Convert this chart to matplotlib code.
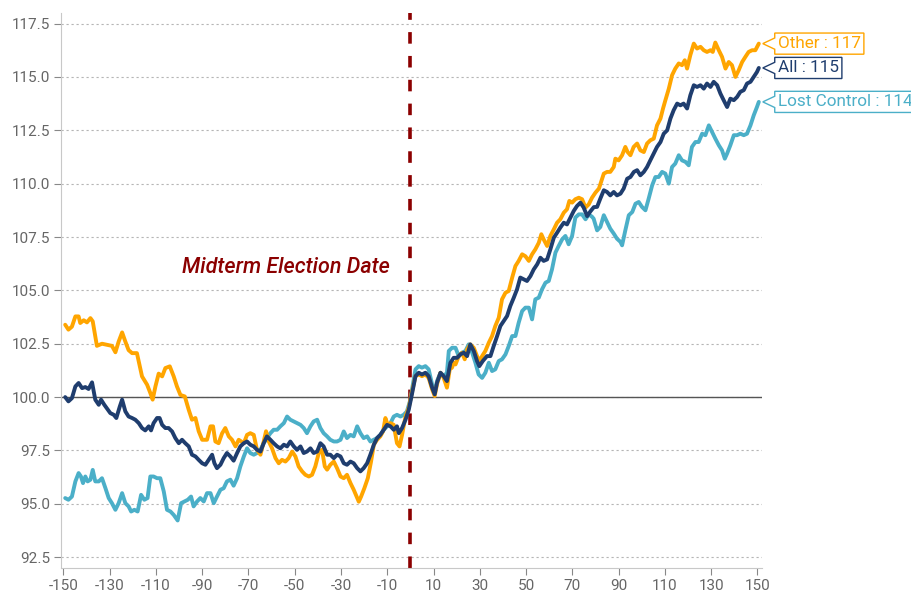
import matplotlib
matplotlib.use('Agg')
import matplotlib.pyplot as plt
from matplotlib.path import Path

plt.rcParams['font.family'] = ['Roboto', 'DejaVu Sans']
plt.rcParams['axes.unicode_minus'] = False

# 선거일 기준 거래일 (-150 ~ 150), 시작=100 으로 지수화
other_days = [-149.2, -147.8, -146.3, -144.8, -143.4, -142.7, -141.2, -139.8, -138.3, -137.3,
              -135.5, -133.3, -131.1, -129.0, -127.5, -126.1, -124.6, -123.2, -121.8, -120.3,
              -118.2, -116.0, -113.8, -112.4, -111.4, -110.2, -108.8, -107.3, -105.9, -104.0,
              -102.3, -100.9, -99.4, -97.5, -95.8, -94.4, -92.9, -91.5, -90.0, -87.9,
              -86.4, -85.3, -84.3, -82.9, -81.4, -80.0, -78.5, -77.1, -75.6, -74.2,
              -72.0, -70.6, -69.2, -67.7, -66.3, -64.8, -63.4, -62.4, -61.2, -59.8,
              -58.3, -56.9, -55.5, -54.0, -52.6, -51.1, -49.7, -48.3, -46.8, -45.4,
              -43.9, -42.5, -41.1, -39.6, -38.2, -37.0, -36.0, -34.6, -33.1, -31.7,
              -30.2, -28.8, -27.4, -25.9, -24.5, -23.0, -22.3, -21.3, -19.9, -18.4,
              -17.0, -15.8, -14.4, -13.0, -11.8, -10.8, -9.8, -8.6, -7.2, -5.8,
              -4.7, -3.6, -2.1, -0.7, 0.7, 2.2, 3.6, 5.0, 6.5, 7.9,
              9.4, 10.5, 11.5, 13.0, 14.4, 15.8, 17.0, 18.0, 18.7, 19.5,
              20.9, 22.3, 23.5, 24.5, 25.9, 27.4, 28.8, 29.8, 31.0, 32.4,
              33.9, 35.3, 36.7, 38.2, 39.6, 41.1, 42.5, 44.0, 45.4, 46.8,
              48.3, 49.7, 51.2, 52.6, 54.0, 55.5, 56.6, 57.6, 59.1, 60.5,
              62.0, 63.4, 64.8, 66.3, 67.7, 68.7, 69.9, 71.3, 72.8, 74.2,
              75.7, 77.1, 78.5, 80.0, 81.5, 83.6, 85.0, 86.4, 87.9, 88.6,
              90.0, 91.5, 92.9, 93.9, 95.1, 96.5, 98.0, 99.4, 100.9, 102.3,
              103.7, 105.2, 106.6, 108.1, 109.2, 110.2, 111.7, 113.1, 114.5, 116.0,
              117.4, 118.6, 119.6, 121.0, 122.5, 123.9, 125.4, 126.8, 128.2, 129.7,
              130.7, 131.8, 133.3, 134.7, 136.2, 137.6, 139.0, 140.5, 141.9, 143.4,
              144.8, 146.2, 147.7, 149.1, 150.6]
other_vals = [103.39, 103.16, 103.30, 103.78, 103.78, 103.47, 103.60, 103.50, 103.70, 103.55,
              102.40, 102.50, 102.45, 102.40, 102.10, 102.60, 103.03, 102.60, 102.20, 102.06,
              102.06, 100.97, 100.58, 100.19, 99.88, 100.50, 101.10, 100.97, 101.36, 101.44,
              100.97, 100.50, 100.10, 100.03, 99.40, 98.94, 99.02, 98.40, 98.00, 98.00,
              98.63, 98.63, 97.92, 97.84, 98.30, 98.55, 98.16, 98.00, 97.69, 98.00,
              97.84, 98.23, 98.31, 98.23, 97.53, 97.30, 97.92, 98.40, 97.92, 97.60,
              97.14, 96.90, 97.06, 96.98, 97.14, 97.45, 97.22, 96.75, 96.52, 96.36,
              96.28, 96.36, 96.75, 97.38, 97.53, 96.75, 96.60, 96.83, 96.98, 96.67,
              96.28, 96.20, 96.36, 95.97, 95.66, 95.27, 95.10, 95.34, 95.73, 96.20,
              96.98, 97.77, 98.00, 98.16, 98.40, 99.02, 98.70, 98.78, 98.70, 97.84,
              97.69, 98.23, 99.10, 99.50, 100.25, 100.98, 101.06, 100.98, 101.06, 100.90,
              100.36, 100.05, 100.60, 101.14, 100.90, 100.44, 101.30, 101.38, 101.60, 101.53,
              101.92, 102.08, 101.77, 102.23, 102.47, 102.31, 101.92, 101.69, 101.92, 102.16,
              102.55, 102.86, 103.33, 103.72, 104.58, 104.89, 104.97, 105.60, 106.14, 106.38,
              106.69, 106.60, 106.38, 106.69, 106.92, 107.23, 107.63, 107.39, 107.08, 107.55,
              107.86, 108.17, 108.33, 108.64, 108.80, 109.19, 109.11, 109.27, 109.34, 109.27,
              108.88, 109.03, 109.34, 109.58, 109.77, 110.47, 110.55, 110.55, 110.78, 111.17,
              111.09, 111.33, 111.72, 111.48, 111.33, 111.72, 111.88, 111.56, 111.48, 111.88,
              112.03, 112.11, 112.73, 113.05, 113.52, 113.90, 114.45, 115.08, 115.39, 115.63,
              115.55, 115.78, 115.39, 116.02, 116.56, 116.33, 116.41, 116.25, 116.17, 116.25,
              116.17, 116.61, 116.25, 115.94, 115.39, 115.70, 115.55, 115.00, 115.31, 115.70,
              115.94, 116.17, 116.25, 116.25, 116.56]

all_days = [-149.2, -147.8, -146.3, -144.8, -143.4, -141.9, -140.5, -139.1, -137.6, -136.2,
            -134.7, -133.7, -132.3, -130.8, -129.7, -128.2, -127.1, -125.6, -124.6, -123.2,
            -121.8, -120.3, -118.9, -117.4, -116.0, -114.6, -113.1, -112.1, -111.0, -109.5,
            -108.4, -107.3, -105.9, -104.5, -103.0, -101.6, -100.1, -98.7, -97.3, -95.8,
            -94.4, -92.9, -91.5, -90.0, -88.6, -87.2, -85.7, -84.7, -83.6, -82.1,
            -80.7, -79.3, -77.8, -76.4, -74.9, -73.5, -72.0, -70.6, -69.2, -67.7,
            -66.3, -64.8, -63.4, -62.0, -60.5, -59.1, -57.6, -56.2, -54.7, -53.3,
            -51.9, -50.4, -49.0, -47.5, -46.1, -44.7, -43.2, -41.8, -40.3, -38.9,
            -37.5, -36.0, -34.6, -33.1, -31.7, -30.2, -28.8, -27.4, -25.9, -24.5,
            -23.0, -21.6, -20.2, -18.7, -17.3, -15.8, -14.4, -13.0, -11.5, -10.1,
            -8.6, -7.2, -5.8, -5.0, -3.6, -2.1, -0.7, 0.7, 2.2, 3.6,
            5.0, 6.5, 7.9, 9.4, 10.5, 11.5, 13.0, 14.4, 15.8, 17.3,
            18.7, 20.2, 21.6, 23.1, 24.5, 25.9, 27.4, 28.8, 29.8, 31.3,
            33.1, 34.6, 36.0, 37.5, 38.9, 40.3, 41.8, 43.2, 44.7, 46.1,
            47.5, 49.0, 50.4, 51.9, 53.3, 54.8, 56.2, 57.6, 59.1, 60.5,
            62.0, 63.4, 64.8, 66.3, 67.7, 69.2, 70.6, 72.0, 73.5, 74.9,
            76.4, 77.8, 79.3, 80.7, 82.1, 83.6, 85.0, 86.4, 87.9, 89.3,
            90.8, 92.2, 93.7, 95.1, 96.6, 98.0, 99.4, 100.9, 102.3, 103.7,
            105.2, 106.6, 108.1, 109.5, 111.0, 112.4, 113.8, 115.3, 116.7, 118.1,
            119.6, 121.0, 122.5, 123.9, 125.4, 126.8, 128.2, 129.7, 131.1, 132.6,
            134.0, 135.4, 136.9, 138.3, 139.8, 141.2, 142.6, 144.1, 145.5, 147.0,
            148.4, 149.8, 150.6]
all_vals = [100.00, 99.80, 99.95, 100.50, 100.66, 100.42, 100.47, 100.38, 100.69, 99.88,
            99.64, 99.88, 99.64, 99.41, 99.25, 99.17, 99.02, 99.56, 99.88, 99.33,
            99.09, 99.02, 98.94, 98.78, 98.55, 98.44, 98.63, 98.44, 98.78, 99.02,
            99.02, 98.70, 98.55, 98.55, 98.39, 98.08, 97.84, 98.00, 97.84, 97.69,
            97.30, 97.22, 97.06, 96.90, 96.83, 97.06, 97.30, 96.90, 96.67, 96.83,
            97.14, 97.38, 97.22, 97.02, 97.38, 97.69, 97.84, 97.92, 97.77, 97.69,
            97.53, 97.45, 97.84, 98.16, 98.00, 97.84, 97.69, 97.60, 97.77, 97.69,
            97.92, 97.69, 97.53, 97.69, 97.38, 97.45, 97.60, 97.38, 97.45, 97.84,
            97.69, 97.30, 97.30, 97.14, 97.30, 97.22, 96.90, 96.83, 96.98, 96.90,
            96.67, 96.52, 96.67, 96.90, 97.30, 97.77, 98.08, 98.23, 98.47, 98.70,
            98.63, 98.47, 98.63, 98.31, 98.55, 98.94, 99.41, 100.15, 100.98, 101.14,
            101.06, 101.14, 100.98, 100.44, 100.13, 100.67, 101.14, 100.98, 100.75, 101.61,
            101.84, 101.84, 102.00, 102.08, 101.92, 102.47, 102.16, 101.69, 101.45, 101.69,
            101.92, 101.92, 102.39, 102.86, 103.33, 103.56, 103.80, 104.27, 104.66, 105.05,
            105.60, 105.52, 105.44, 105.67, 105.98, 106.22, 106.53, 106.38, 106.45, 106.92,
            107.47, 107.70, 107.94, 108.17, 108.09, 108.41, 108.72, 108.95, 109.11, 108.88,
            108.48, 108.70, 108.90, 108.91, 109.30, 109.69, 109.61, 109.45, 109.61, 109.45,
            109.53, 109.77, 110.23, 110.31, 110.55, 110.63, 110.39, 110.55, 110.78, 111.09,
            111.41, 111.72, 111.95, 112.34, 112.50, 113.05, 113.44, 113.75, 113.67, 113.75,
            113.52, 114.14, 114.61, 114.53, 114.61, 114.45, 114.69, 114.53, 114.77, 114.61,
            114.22, 113.91, 113.59, 113.98, 113.91, 114.06, 114.30, 114.38, 114.69, 114.77,
            115.00, 115.23, 115.42]

lost_days = [-149.2, -147.8, -146.3, -144.8, -143.4, -142.4, -141.5, -140.5, -139.5, -138.3,
             -137.3, -136.2, -134.7, -133.3, -131.8, -130.4, -129.0, -127.5, -126.1, -124.6,
             -123.2, -121.8, -120.7, -119.3, -117.9, -116.4, -115.0, -113.6, -112.4, -111.0,
             -109.5, -108.1, -106.6, -105.2, -103.7, -102.3, -100.6, -99.1, -97.7, -96.2,
             -94.8, -93.7, -92.2, -90.8, -89.3, -87.9, -86.4, -85.0, -83.6, -82.1,
             -80.7, -79.3, -77.8, -76.4, -74.9, -73.5, -72.0, -70.6, -69.2, -67.7,
             -66.3, -64.8, -63.4, -62.0, -60.5, -59.1, -57.6, -56.2, -54.7, -53.3,
             -51.9, -50.4, -49.0, -47.5, -46.1, -44.7, -43.2, -41.8, -40.3, -38.9,
             -37.5, -36.0, -34.6, -33.1, -31.7, -30.2, -28.8, -27.4, -25.9, -24.5,
             -23.0, -21.6, -20.2, -18.7, -17.3, -15.8, -14.4, -13.0, -11.5, -10.1,
             -8.6, -7.2, -5.8, -4.3, -2.9, -1.5, 0.0, 0.7, 2.2, 3.6,
             5.0, 6.5, 7.9, 9.4, 10.5, 11.5, 13.0, 14.4, 15.8, 16.6,
             18.0, 19.5, 20.9, 22.3, 23.8, 25.2, 26.7, 28.1, 29.5, 31.0,
             32.4, 33.9, 35.3, 36.7, 38.2, 39.6, 41.1, 42.5, 44.0, 45.4,
             46.8, 48.3, 49.7, 51.2, 52.6, 54.0, 55.5, 56.9, 58.4, 59.8,
             61.2, 62.7, 64.1, 65.6, 67.0, 68.4, 69.9, 71.3, 72.8, 74.2,
             75.7, 77.1, 78.5, 79.2, 80.7, 82.1, 83.6, 85.0, 86.4, 87.9,
             89.3, 90.8, 91.5, 92.9, 94.4, 95.9, 97.3, 98.7, 100.1, 101.6,
             103.0, 104.5, 105.9, 107.3, 108.8, 110.2, 111.7, 113.1, 114.5, 116.0,
             117.4, 118.9, 120.3, 121.7, 123.2, 124.6, 126.1, 127.5, 129.0, 130.4,
             131.8, 133.3, 134.7, 135.9, 136.9, 138.3, 139.8, 141.2, 142.6, 144.1,
             145.5, 147.0, 148.4, 149.8, 150.6]
lost_vals = [95.27, 95.19, 95.34, 96.05, 96.44, 96.28, 95.97, 96.28, 96.05, 96.13,
             96.59, 96.05, 96.05, 96.20, 95.73, 95.27, 95.03, 94.72, 95.03, 95.50,
             95.03, 94.88, 94.64, 94.72, 94.64, 95.42, 95.19, 95.27, 96.28, 96.28,
             96.20, 96.20, 95.58, 94.72, 94.64, 94.48, 94.22, 95.03, 95.11, 95.19,
             95.34, 94.88, 95.11, 95.27, 95.11, 95.50, 95.50, 95.03, 95.34, 95.66,
             95.73, 96.05, 96.13, 95.85, 96.20, 96.75, 97.22, 97.60, 97.38, 97.30,
             97.38, 97.53, 97.84, 98.08, 98.31, 98.47, 98.47, 98.63, 98.78, 99.09,
             98.94, 98.86, 98.78, 98.70, 98.55, 98.31, 98.63, 98.86, 98.94, 98.55,
             98.31, 98.16, 98.00, 97.92, 97.92, 98.00, 98.39, 98.08, 98.23, 98.16,
             98.63, 98.31, 98.08, 98.16, 97.92, 98.00, 98.08, 98.23, 98.47, 98.63,
             98.78, 99.09, 99.17, 99.09, 99.17, 99.33, 99.88, 100.36, 101.30, 101.45,
             101.38, 101.45, 101.30, 100.59, 100.20, 100.75, 101.14, 100.98, 101.14, 102.16,
             102.31, 102.31, 101.92, 102.08, 102.16, 102.47, 102.08, 101.61, 101.06, 100.90,
             101.14, 101.61, 101.22, 101.30, 101.69, 101.77, 102.00, 102.39, 102.86, 102.86,
             103.48, 104.03, 104.19, 104.19, 103.64, 104.58, 104.66, 105.05, 105.36, 105.44,
             105.98, 106.77, 107.08, 107.39, 107.55, 107.16, 107.55, 108.41, 108.56, 108.56,
             108.33, 108.56, 108.45, 108.36, 107.81, 107.97, 108.52, 108.20, 107.89, 107.66,
             107.42, 107.27, 107.11, 107.81, 108.52, 108.67, 109.06, 109.14, 108.91, 108.75,
             109.30, 109.92, 110.31, 110.31, 110.55, 110.47, 110.00, 110.78, 110.94, 111.33,
             111.09, 111.02, 110.86, 111.72, 111.95, 111.95, 112.34, 112.27, 112.73, 112.42,
             112.11, 111.80, 111.56, 111.17, 111.41, 111.80, 112.27, 112.27, 112.34, 112.27,
             112.34, 112.73, 113.20, 113.59, 113.83]

x_ticks = list(range(-150, 151, 20))
y_ticks = [92.5, 95.0, 97.5, 100.0, 102.5, 105.0, 107.5, 110.0, 112.5, 115.0, 117.5]

series = [
    ("Lost Control", lost_days, lost_vals, "#4BAFC8"),
    ("Other", other_days, other_vals, "#FFA500"),
    ("All", all_days, all_vals, "#1F3D6E"),
]


# 오른쪽 끝 라벨용 말풍선 박스 (왼쪽에 뾰족한 꼬리)
def callout(x0, y0, width, height, mutation_size):
    pad = 0.18 * mutation_size
    x0, y0 = x0 - pad, y0 - pad
    x1, y1 = x0 + width + 2 * pad, y0 + height + 2 * pad
    ym = (y0 + y1) / 2
    tip = 0.7 * mutation_size
    notch = 0.33 * mutation_size
    verts = [(x0, y0), (x1, y0), (x1, y1), (x0, y1), (x0, ym + notch),
             (x0 - tip, ym), (x0, ym - notch), (x0, y0)]
    return Path(verts, closed=True)


fig = plt.figure(figsize=(9.11, 5.99), dpi=100)
ax = fig.add_axes([0.067, 0.052, 0.7695, 0.9265])

for name, days, vals, color in series:
    ax.plot(days, vals, color=color, linewidth=2.8, zorder=3,
            solid_joinstyle="round", solid_capstyle="round")
    ax.annotate(f"{name} : {round(vals[-1])}", xy=(days[-1], vals[-1]),
                xytext=(19, 0), textcoords="offset pixels", ha="left", va="center",
                fontsize=12.3, color=color,
                bbox=dict(boxstyle=callout, fc="white", ec=color, lw=1.0))

ax.axhline(100, color="#555555", linewidth=1.0, zorder=2)
ax.axvline(0, color="#8B0000", linewidth=2.6, dashes=(3.2, 3.4), zorder=2.5)
ax.text(-9, 106.05, "Midterm Election Date", ha="right", va="center",
        fontsize=15.5, fontstyle="italic", fontweight="medium", color="#8B0000")

ax.set_xlim(-151, 152)
ax.set_ylim(92, 118)
ax.set_xticks(x_ticks)
ax.set_yticks(y_ticks)
ax.set_yticklabels([f"{v:.1f}" for v in y_ticks])

ax.yaxis.grid(True, linestyle=(0, (2, 2.5)), color="#b5b5b5", linewidth=0.8, zorder=1)
ax.set_axisbelow(True)
for side in ["top", "right"]:
    ax.spines[side].set_visible(False)
for side in ["left", "bottom"]:
    ax.spines[side].set_color("#c8c8c8")
ax.tick_params(colors="#666666", labelsize=11, length=5, width=0.8, pad=3)
ax.tick_params(axis="both", color="#888888")

fig.savefig("out.png", dpi=100)
